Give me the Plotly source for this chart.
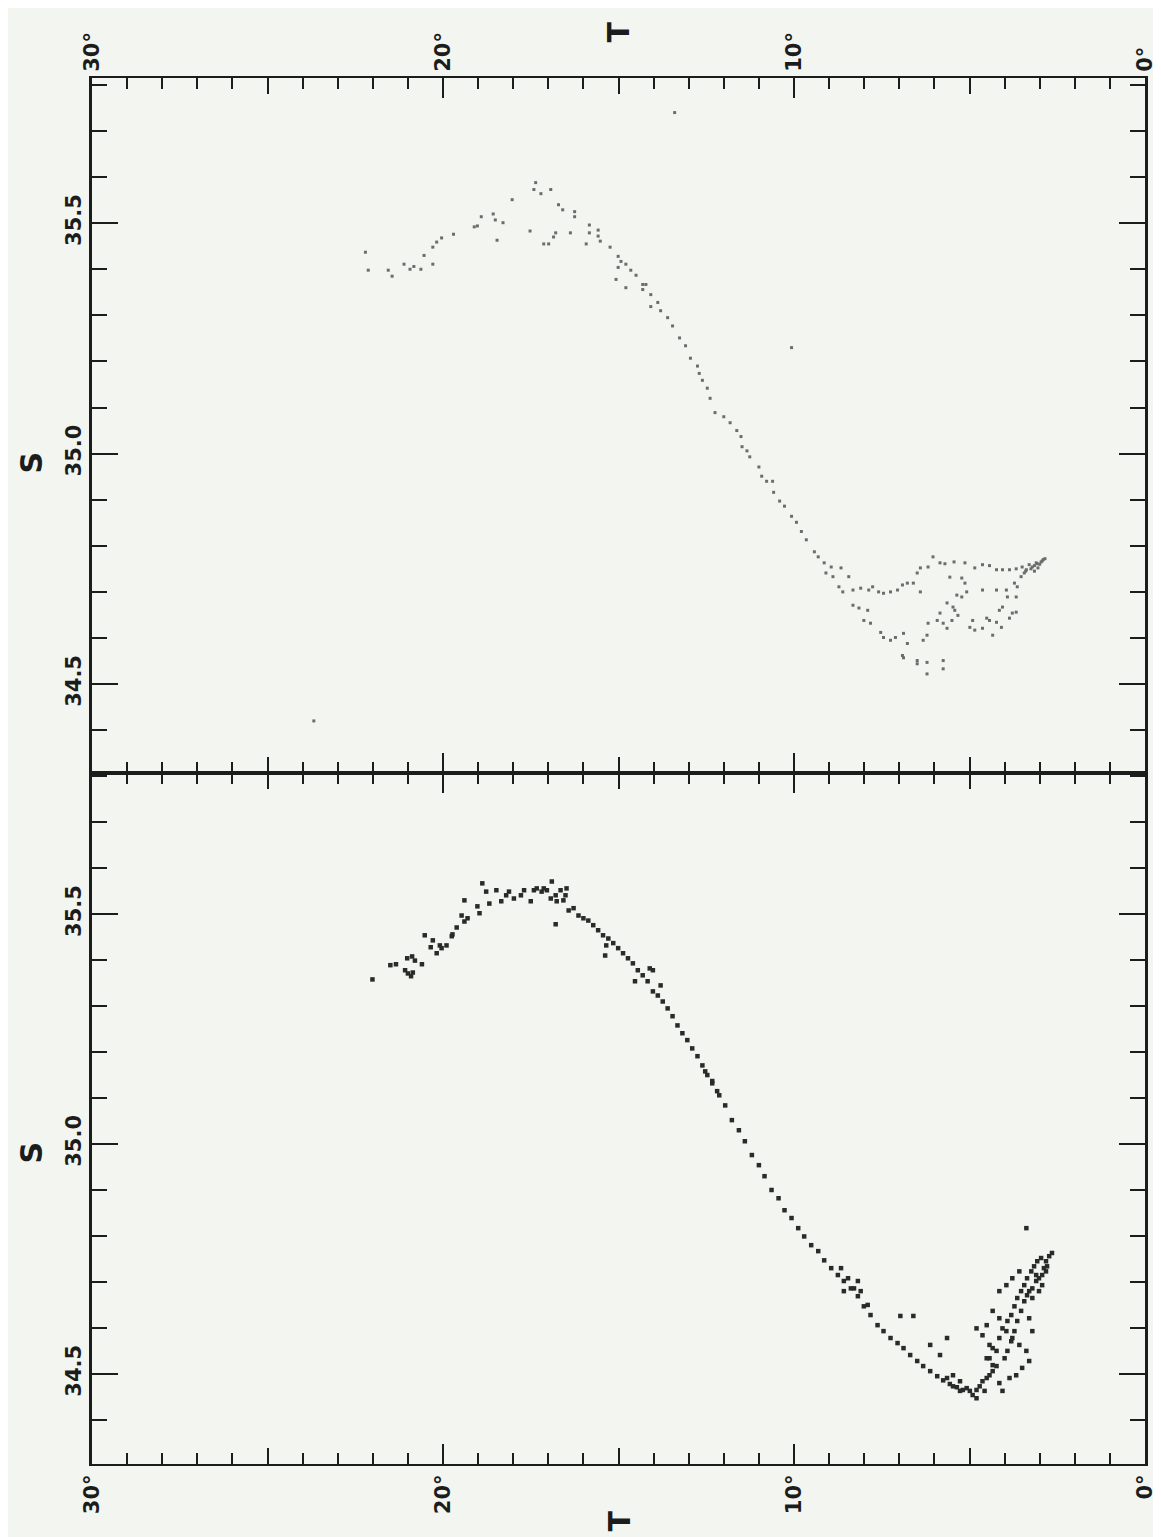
import plotly.graph_objects as go

# ---------------- data (T in deg C, S in psu) ----------------
# Upper panel
top_arc = [(22.21,35.437),(22.13,35.398),(21.56,35.398),(21.45,35.385),(21.11,35.411),(20.94,35.400),
           (20.83,35.406),(20.63,35.400),(20.54,35.430),(20.29,35.448),(20.29,35.411),(20.18,35.459),
           (20.04,35.468),(19.70,35.476),(19.11,35.492),(19.02,35.494),(18.91,35.514),(18.57,35.520),
           (18.51,35.507),(18.29,35.501),(18.46,35.463),(18.03,35.551),(17.52,35.483),(17.36,35.588),
           (17.41,35.573),(17.21,35.564),(16.93,35.573),(17.13,35.455),(16.99,35.455),(16.85,35.470),
           (16.79,35.479),(16.71,35.540),(16.59,35.529),(16.37,35.479),(16.25,35.525),(16.25,35.514),
           (15.92,35.455),(15.83,35.496),(15.83,35.479),(15.58,35.485),(15.58,35.472),(15.52,35.461),
           (15.24,35.448),(15.01,35.428),(14.93,35.417),(14.79,35.411),(15.07,35.378),(15.01,35.404),
           (14.65,35.398),(14.50,35.387),(14.31,35.367),(14.22,35.367),(14.79,35.360),(14.31,35.356),
           (14.08,35.345),(14.08,35.319),(13.88,35.328),(13.80,35.310),(13.60,35.295),(13.46,35.277),
           (13.26,35.251),(13.09,35.234),(12.95,35.207),(12.75,35.190),(12.70,35.174),(12.61,35.159),
           (12.47,35.142),(12.39,35.120)]
top_line = [(12.25,35.089),(12.00,35.080),(11.82,35.067),(11.63,35.050),(11.51,35.037),(11.48,35.015),
            (11.34,35.006),(11.26,34.993),(11.00,34.971),(10.92,34.951),(10.78,34.940),(10.61,34.940),
            (10.58,34.916),(10.41,34.897),(10.27,34.886),(10.07,34.864),(9.93,34.851),(9.79,34.831),
            (9.65,34.813),(9.42,34.787),(9.31,34.776),(9.14,34.763),(8.94,34.754),(9.09,34.741),
            (8.89,34.733),(8.66,34.752),(8.44,34.733),(8.72,34.711),(8.61,34.700),(8.32,34.704)]
top_upper_loop = [(8.10,34.708),(7.87,34.704),(7.76,34.711),(7.59,34.700),(7.45,34.697),(7.25,34.700),
                  (7.05,34.704),(6.91,34.715),(6.77,34.719),(6.60,34.719),(6.40,34.700),(6.49,34.741),
                  (6.40,34.752),(6.18,34.754),(6.04,34.776),(5.84,34.763),(5.70,34.761),(5.44,34.765),
                  (5.13,34.763),(4.85,34.752),(4.63,34.759),(4.43,34.757),(4.23,34.748),(4.06,34.748),
                  (3.86,34.748),(3.67,34.750),(3.50,34.754),(3.30,34.759),(3.10,34.763),(2.93,34.767),
                  (3.38,34.748),(3.44,34.741),(3.53,34.733),(3.21,34.754),(3.07,34.761),(2.96,34.765),
                  (2.85,34.772),(2.90,34.770),(3.00,34.760),(3.15,34.757),(3.25,34.750),(3.40,34.745),
                  (3.15,34.745),(3.05,34.752)]
top_lower_loop = [(8.32,34.671),(8.15,34.665),(7.90,34.660),(8.01,34.638),(7.82,34.632),(7.53,34.612),
                  (7.45,34.601),(7.25,34.595),(7.11,34.601),(6.88,34.610),(6.77,34.588),(6.91,34.562),
                  (6.88,34.557),(6.49,34.551),(6.49,34.544),(6.21,34.522),(6.21,34.547),(5.75,34.551),
                  (5.75,34.533),(6.32,34.595),(6.21,34.606),(6.18,34.632),(5.92,34.638),(5.84,34.654),
                  (5.75,34.632),(5.64,34.621),(5.50,34.638),(5.47,34.667),(5.42,34.660),(5.33,34.649),
                  (5.36,34.693),(5.22,34.689),(5.08,34.700),(4.99,34.623),(4.85,34.617),(4.91,34.638),
                  (4.63,34.621),(4.51,34.643),(4.43,34.638),(4.23,34.634),(4.34,34.606),(4.15,34.660),
                  (4.06,34.667),(4.09,34.623),(3.86,34.643),(3.78,34.654),(3.67,34.656),(3.92,34.689),
                  (3.95,34.704),(3.67,34.689),(3.72,34.719),(3.64,34.711),(4.63,34.704),(4.23,34.704),
                  (5.13,34.719),(5.22,34.730),(5.56,34.732),(5.64,34.676)]
top_strays = [(13.40,35.740),(23.68,34.420),(10.07,35.230)]

# Lower panel
bot_arc = [(22.01,35.358),(21.50,35.389),(21.34,35.391),(21.08,35.378),(21.00,35.371),(20.91,35.365),
           (20.86,35.373),(21.02,35.404),(20.88,35.408),(20.80,35.399),(20.60,35.391),(20.52,35.454),
           (20.35,35.428),(20.18,35.415),(20.09,35.432),(20.04,35.426),(19.90,35.432),(20.29,35.443),
           (19.75,35.452),(19.73,35.456),(19.61,35.471),(19.47,35.497),(19.39,35.484),(19.30,35.491),
           (19.39,35.530),(19.02,35.517),(18.96,35.502),(18.88,35.567),(18.77,35.549),(18.68,35.523),
           (18.48,35.552),(18.34,35.528),(18.20,35.541),(18.12,35.549),(17.98,35.534),(17.78,35.541),
           (17.69,35.552),(17.50,35.528),(17.41,35.552),(17.33,35.556),(17.19,35.549),(17.13,35.556),
           (17.04,35.552),(16.90,35.571),(16.93,35.534),(16.79,35.541),(16.76,35.528),(16.65,35.552),
           (16.51,35.541),(16.48,35.556),(16.57,35.530),(16.79,35.478)]
bot_band_upper = [(16.42,35.508),(16.28,35.513),(16.14,35.497),(16.00,35.491),(15.86,35.486),(15.72,35.476),
                  (15.58,35.465),(15.44,35.454),(15.29,35.447),(15.15,35.437),(15.01,35.426),(14.87,35.415),
                  (14.73,35.404),(14.59,35.393),(14.45,35.378),(14.31,35.367),(14.17,35.354),(14.02,35.332),
                  (13.88,35.323),(13.74,35.310),(13.60,35.295),(13.46,35.278),(13.32,35.258),(13.18,35.241),
                  (13.04,35.226),(12.90,35.208),(12.75,35.191),(12.61,35.171),(12.47,35.150),(12.33,35.137),
                  (12.19,35.115),(15.38,35.410),(14.11,35.382),(14.02,35.378),(13.80,35.345),(14.53,35.354),
                  (15.35,35.432)]
bot_band_lower = [(12.53,35.158),(12.33,35.132),(12.13,35.106),(11.96,35.084),(11.77,35.052),(11.57,35.030),
                  (11.40,35.006),(11.20,34.976),(11.00,34.954),(10.84,34.930),(10.64,34.900),(10.44,34.882),
                  (10.27,34.856),(10.07,34.839),(9.88,34.817),(9.71,34.799),(9.51,34.780),(9.31,34.767),
                  (9.14,34.747),(8.94,34.730),(8.75,34.715),(8.58,34.702),(8.38,34.686),(8.18,34.669),
                  (8.01,34.647),(7.82,34.628),(7.62,34.606),(7.45,34.593),(7.25,34.578),(7.05,34.567),
                  (6.88,34.556),(6.69,34.541),(6.49,34.528),(6.32,34.517),(6.12,34.506),(5.92,34.495),
                  (5.75,34.486),(5.56,34.478),(5.36,34.471),(5.19,34.465),(4.99,34.463),(4.80,34.465),
                  (8.66,34.730),(8.46,34.708),(8.29,34.686),(8.10,34.680),(7.90,34.650),(8.58,34.680),
                  (8.18,34.702)]
bot_bottom = [(5.64,34.491),(5.47,34.473),(5.27,34.463),(5.08,34.469),(4.91,34.454),(4.71,34.473),
              (4.63,34.484),(4.51,34.491),(4.34,34.506),(4.15,34.480),(4.06,34.463),(4.80,34.447),
              (4.43,34.497),(4.57,34.463),(4.23,34.517),(5.47,34.497),(5.27,34.484)]
bot_rising = [(4.51,34.534),(4.34,34.556),(4.15,34.578),(4.06,34.599),(3.92,34.615),(3.81,34.628),
              (3.72,34.647),(3.64,34.665),(3.53,34.680),(3.44,34.693),(3.36,34.708),(3.24,34.723),
              (3.16,34.734),(3.07,34.745),(2.96,34.752),(2.82,34.745),(2.73,34.756),(2.65,34.763),
              (3.30,34.680),(3.21,34.686),(3.10,34.702),(3.02,34.708),(2.93,34.715),(2.82,34.723),
              (2.79,34.734),(3.21,34.665),(3.02,34.680),(2.93,34.693),(3.10,34.715),(2.88,34.730),
              (3.36,34.671),(3.44,34.658),(3.53,34.637),(3.64,34.615),(3.72,34.593),(3.81,34.571),
              (3.92,34.550),(4.00,34.534)]
bot_scatter = [(4.15,34.680),(3.95,34.693),(3.78,34.708),(3.58,34.723),(4.34,34.637),(4.51,34.606),
               (4.80,34.599),(4.63,34.584),(4.43,34.563),(4.23,34.550),(4.43,34.534),(4.34,34.519),
               (4.15,34.621),(3.95,34.593),(3.78,34.578),(3.58,34.563),(3.38,34.550),(3.30,34.528),
               (3.50,34.513),(3.67,34.497),(3.86,34.491),(3.30,34.621),(3.21,34.593),(5.64,34.578),
               (6.12,34.563),(5.84,34.541),(6.60,34.626),(6.97,34.626),(3.38,34.817)]

T_TICK0, T_DTICK, T_MINOR, T_MID = 0, 10, 1, [5, 15, 25]
S_TICK0, S_DTICK, S_MINOR = 34.5, 0.5, 0.1
T_RANGE = [30, 0]
S_RANGE_TOP = [34.307, 35.815]
S_RANGE_BOT = [34.304, 35.807]

top_pts = top_arc + top_line + top_upper_loop + top_lower_loop + top_strays
bot_pts = bot_arc + bot_band_upper + bot_band_lower + bot_bottom + bot_rising + bot_scatter
T_top = [p[0] for p in top_pts]; S_top = [p[1] for p in top_pts]
T_bot = [p[0] for p in bot_pts]; S_bot = [p[1] for p in bot_pts]

# ---------------- styling ----------------
BG = "#f3f6f0"
INK = "#1c1c1c"
FONT = "DejaVu Sans"
W, H = 1161, 1537
L, R, T_, B = 84, 14, 70, 81
plot_h = H - T_ - B
split = (H - B - 765) / plot_h

fig = go.Figure()
fig.add_trace(go.Scatter(x=T_top, y=S_top, mode="markers", xaxis="x", yaxis="y",
                         marker=dict(symbol="square", size=3, color="#6c6c6c", line=dict(width=0)),
                         showlegend=False, hoverinfo="skip"))
fig.add_trace(go.Scatter(x=T_bot, y=S_bot, mode="markers", xaxis="x2", yaxis="y2",
                         marker=dict(symbol="square", size=4.5, color="#2a2a2a", line=dict(width=0)),
                         showlegend=False, hoverinfo="skip"))
fig.add_trace(go.Scatter(x=[None], y=[None], xaxis="x3", yaxis="y", showlegend=False, hoverinfo="skip"))
fig.add_trace(go.Scatter(x=[None], y=[None], xaxis="x4", yaxis="y2", showlegend=False, hoverinfo="skip"))

tickfont = dict(family=FONT, size=21, color=INK, weight="bold")

def xax(side, anchor):
    return dict(range=T_RANGE, autorange=False, anchor=anchor, side=side,
                showline=True, linecolor=INK, linewidth=2, mirror="ticks",
                ticks="inside", tickmode="linear", tick0=T_TICK0, dtick=T_DTICK,
                ticklen=20, tickwidth=2, tickcolor=INK, ticksuffix="°",
                tickangle=-90, tickfont=tickfont, showgrid=False, zeroline=False,
                minor=dict(ticks="inside", tickmode="linear", tick0=0, dtick=T_MINOR,
                           ticklen=11, tickwidth=2, tickcolor=INK, showgrid=False))

def xmid(side, anchor, over):
    return dict(range=T_RANGE, autorange=False, anchor=anchor, side=side, overlaying=over,
                showline=False, mirror="ticks",
                ticks="inside", tickmode="array", tickvals=T_MID, ticklen=16, tickwidth=2,
                tickcolor=INK, showticklabels=False, showgrid=False, zeroline=False)

def yax(rng, dom, anchor):
    return dict(range=rng, autorange=False, domain=dom, anchor=anchor, side="left",
                showline=True, linecolor=INK, linewidth=2.5, mirror="ticks",
                ticks="inside", tickmode="linear", tick0=S_TICK0, dtick=S_DTICK,
                tickformat=".1f", ticklen=26, tickwidth=2, tickcolor=INK,
                tickangle=-90, tickfont=tickfont, showgrid=False, zeroline=False,
                minor=dict(ticks="inside", tickmode="linear", tick0=34.0, dtick=S_MINOR,
                           ticklen=15, tickwidth=2, tickcolor=INK, showgrid=False))

fig.update_layout(
    width=W, height=H, margin=dict(l=L, r=R, t=T_, b=B, pad=0),
    paper_bgcolor=BG, plot_bgcolor=BG,
    xaxis=xax("top", "y"), xaxis2=xax("bottom", "y2"),
    xaxis3=xmid("top", "y", "x"), xaxis4=xmid("bottom", "y2", "x2"),
    yaxis=yax(S_RANGE_TOP, [split, 1], "x"),
    yaxis2=yax(S_RANGE_BOT, [0, split], "x2"),
    showlegend=False,
)

title_font = dict(family=FONT, size=30, color=INK)
for x, y in [(0.5, 1 + (70 - 24) / plot_h), (0.5, -(1513 - (H - B)) / plot_h)]:
    fig.add_annotation(text="<b>T</b>", x=x, y=y, xref="paper", yref="paper",
                       textangle=-90, showarrow=False, font=title_font,
                       xanchor="center", yanchor="middle")
for y in [((H - B) - 455) / plot_h, ((H - B) - 1145) / plot_h]:
    fig.add_annotation(text="<b>S</b>", x=(22 - L) / (W - L - R), y=y, xref="paper", yref="paper",
                       textangle=-90, showarrow=False, font=title_font,
                       xanchor="center", yanchor="middle")

fig.write_html("out.html")
